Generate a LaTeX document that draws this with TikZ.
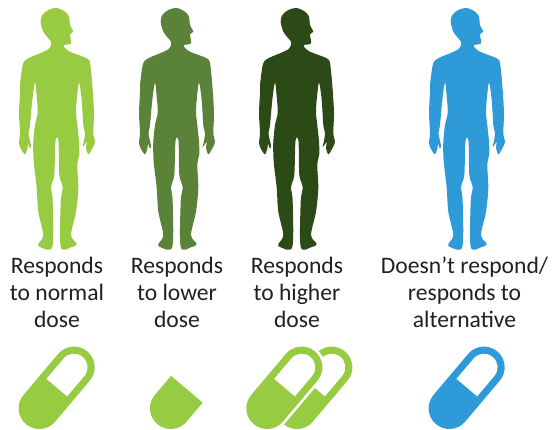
\documentclass[tikz,border=0pt]{standalone}
\usepackage{fontspec}
\setmainfont{Carlito}
\usetikzlibrary{positioning}
\definecolor{doseLightGreen}{RGB}{151, 203, 66}
\definecolor{doseGreen}{RGB}{90, 130, 56}
\definecolor{doseDarkGreen}{RGB}{44, 74, 22}
\definecolor{doseBlue}{RGB}{46, 155, 216}
\definecolor{doseText}{RGB}{35, 31, 32}

\begin{document}
\begin{tikzpicture}[
  x=1pt,
  y=-1pt,
  doselabel/.style={
    align=center,
    inner sep=0pt,
    text=doseText,
    font=\fontsize{23.6}{27}\selectfont
  },
  pics/person/.style={code={
    \fill[#1] plot[smooth cycle,tension=0.5] coordinates {
      (56.7,8) (65,11.7) (69,16.7) (70,25) (73.3,31.7) (70,34.3) (71,43.3)
      (64.3,45) (64.3,47.3) (70,51.7) (86.7,58.3) (90,63.3) (92.3,85) (94,113)
      (93.3,133) (95,142) (92,149) (88.3,154.3) (86,147.7) (86.7,142)
      (82.7,147) (84,141) (85,133) (83.3,125) (81.7,100) (79,82.7) (76.7,100)
      (76,113) (77.3,125) (79,141.7) (79.3,154) (77.3,165) (78.3,188)
      (76,211.7) (71,235) (76.7,244) (71.7,247) (60.7,247) (60.7,201.7)
      (62.7,186.7) (59.3,175) (58.5,141) (55.5,141) (54.3,175) (51,186.7)
      (52.7,201.7) (52.3,247) (40,247) (38.3,244) (43.3,235) (38.3,211.7)
      (36.7,188) (34,165) (33.3,154) (33.3,141.7) (35,125) (37.7,113) (37,100)
      (35,82.7) (32.3,100) (30,125) (28.5,133) (30,141) (31,146) (29.8,148.5)
      (28,143.5) (27.5,148) (25,154.3) (21,149) (19,143) (20,133) (19,113)
      (20,93) (20,85) (23,64) (28.3,58.3) (40,53.3) (48.3,49.3) (51,45)
      (51,41.7) (48.3,38.3) (43.3,31.7) (40.7,21.7) (42.3,15) (48.3,10)};
  }},
  pics/capsule/.style={code={
    \fill[#1,even odd rule]
      (0,20.7) arc[start angle=90,end angle=270,radius=20.7]
      -- (53.7,-20.7) arc[start angle=-90,end angle=90,radius=20.7] -- cycle
      (27,13.7) -- (53.7,13.7) arc[start angle=90,end angle=-90,radius=13.7]
      -- (27,-13.7) -- cycle;
  }},
  pics/halfcapsule/.style={code={
    \fill[#1]
      (0,20.7) arc[start angle=90,end angle=270,radius=20.7]
      -- (25,-20.7) -- (25,20.7) -- cycle;
  }},
  pics/capsulegap/.style={code={
    \fill[white]
      (0,23.4) arc[start angle=90,end angle=270,radius=23.4]
      -- (53.7,-23.4) arc[start angle=-90,end angle=90,radius=23.4] -- cycle;
  }}
]
  \useasboundingbox (0,0) rectangle (553,429);
  \pic at (0,0) {person=doseLightGreen};
  \pic at (120,0) {person=doseGreen};
  \pic at (240,0) {person=doseDarkGreen};
  \pic at (410,0) {person=doseBlue};
  \node[doselabel] (normal) at (57,292) {Responds\\to normal\\dose};
  \node[doselabel,right=120pt of normal.center,anchor=center] (lower)
    {Responds\\to lower\\dose};
  \node[doselabel,right=120pt of lower.center,anchor=center] (higher)
    {Responds\\to higher\\dose};
  \node[doselabel,right=167.5pt of higher.center,anchor=center] (alternative)
    {Doesn’t respond/\\responds to\\alternative};
  \pic[rotate=49.8] at (39.3,408.3) {capsule=doseLightGreen};
  \pic[rotate=49.8] at (170.7,408.3) {halfcapsule=doseLightGreen};
  \pic[rotate=49.8] at (297,408.3) {capsule=doseLightGreen};
  \pic[rotate=49.8] at (267,408.3) {capsulegap};
  \pic[rotate=49.8] at (267,408.3) {capsule=doseLightGreen};
  \pic[rotate=49.8] at (449.3,408.3) {capsule=doseBlue};
\end{tikzpicture}
\end{document}
